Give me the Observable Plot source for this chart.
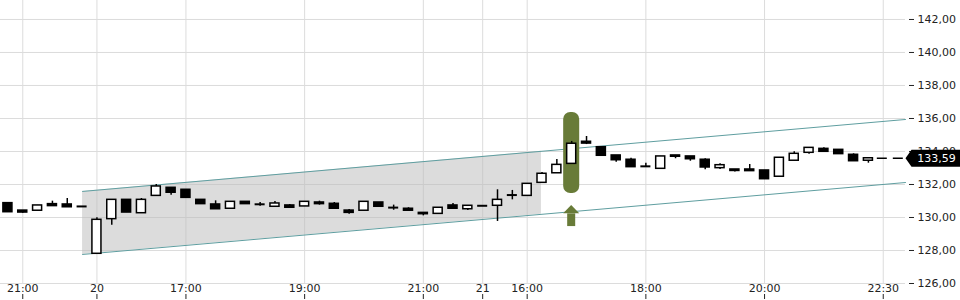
<!DOCTYPE html>
<html>
<head>
<meta charset="utf-8">
<script src="https://cdn.jsdelivr.net/npm/d3@7"></script>
<script src="https://cdn.jsdelivr.net/npm/@observablehq/plot@0.6"></script>
<style>
  html, body { margin: 0; padding: 0; background: #fff; }
  #chart svg { display: block; }
</style>
</head>
<body>
<div id="chart"></div>
<script>
// ---- data ----
const opens  = [130.87,130.42,130.41,130.81,130.79,130.67,127.80,129.90,131.07,130.26,
                131.31,131.80,131.68,131.07,130.79,130.53,130.95,130.80,130.65,130.73,
                130.67,130.91,130.83,130.42,130.41,130.91,130.60,130.53,130.28,130.22,
                130.73,130.50,130.71,130.71,131.36,131.31,132.10,132.68,133.25,134.59,
                134.26,133.76,133.50,133.10,132.95,133.76,133.70,133.50,132.99,132.91,
                132.91,132.85,132.47,133.44,133.92,134.16,134.10,133.80,133.44];
const highs  = [130.87,130.42,130.73,130.99,131.15,130.67,129.98,131.07,131.07,131.15,
                132.00,131.80,131.68,131.07,131.01,130.95,130.95,130.91,130.97,130.79,
                130.95,130.99,130.91,130.48,130.95,130.91,130.75,130.59,130.28,130.59,
                130.85,130.71,130.71,131.68,131.64,132.04,132.73,133.52,134.61,134.91,
                134.26,133.76,133.59,133.29,133.70,133.76,133.70,133.56,133.25,132.91,
                133.21,132.85,133.62,133.98,134.22,134.22,134.10,133.86,133.59];
const lows   = [130.32,130.26,130.41,130.69,130.62,130.67,127.80,129.53,130.30,130.26,
                131.31,131.35,131.19,130.81,130.50,130.53,130.81,130.68,130.65,130.55,
                130.67,130.75,130.53,130.20,130.41,130.65,130.44,130.41,130.10,130.22,
                130.53,130.42,130.71,129.76,131.07,131.31,132.10,132.68,133.25,134.42,
                133.74,133.35,133.05,133.08,132.95,133.56,133.41,132.89,132.91,132.76,
                132.81,132.32,132.47,133.44,133.84,133.98,133.84,133.41,133.29];
const closes = [130.32,130.30,130.73,130.69,130.62,130.67,129.86,131.07,130.30,131.07,
                131.88,131.50,131.19,130.81,130.50,130.95,130.81,130.78,130.85,130.59,
                130.95,130.81,130.53,130.28,130.95,130.65,130.58,130.41,130.20,130.59,
                130.53,130.71,130.71,131.07,131.40,132.04,132.65,133.19,134.47,134.48,
                133.74,133.47,133.05,133.08,133.70,133.68,133.53,133.03,133.17,132.82,
                132.81,132.32,133.62,133.86,134.22,133.98,133.84,133.41,133.59];

const xTickIndex  = [1, 6, 12, 20, 28, 32, 35, 43, 51, 59];
const xTickLabels = ["21:00","20","17:00","19:00","21:00","21","16:00","18:00","20:00","22:30"];
const yTicks = [126,128,130,132,134,136,138,140,142];

// regression channel (index, value)
const channelX     = [5.03, 60.5];
const channelUpper = [131.58, 135.94];
const channelLower = [127.76, 132.12];
// shaded regression period
const shadeX     = [5.03, 35.96];
const shadeUpper = [131.58, 134.01];
const shadeLower = [127.76, 130.19];

// signal highlight around candle 38
const signalIndex = 38;
const signalTop = 136.36, signalBottom = 131.45;
const arrowTip = 130.73, arrowBase = 130.22, arrowTail = 129.45;

const lastPrice = 133.59;

// ---- build tables ----
const candles = opens.map((o, i) => ({
  i, o, h: highs[i], l: lows[i], c: closes[i],
  up: closes[i] >= opens[i],
  lo: Math.min(o, closes[i]), hi: Math.max(o, closes[i]),
  doji: Math.abs(closes[i] - o) < 0.05
}));
const bodies = candles.filter(d => !d.doji);
const dojis = candles.filter(d => d.doji);
const labelMap = new Map(xTickIndex.map((d, k) => [d, xTickLabels[k]]));
const fmt = d => d.toFixed(2).replace(".", ",");

const channelU = channelX.map((x, k) => ({x, y: channelUpper[k]}));
const channelL = channelX.map((x, k) => ({x, y: channelLower[k]}));
const shade = shadeX.map((x, k) => ({x, y1: shadeLower[k], y2: shadeUpper[k]}));
const pill = [{x1: signalIndex - 0.54, x2: signalIndex + 0.54, y1: signalBottom, y2: signalTop}];
const arrowHead = [
  {x: signalIndex - 0.54, y1: arrowBase, y2: arrowBase},
  {x: signalIndex, y1: arrowBase, y2: arrowTip},
  {x: signalIndex + 0.54, y1: arrowBase, y2: arrowBase}
];
const arrowShaft = [{x1: signalIndex - 0.27, x2: signalIndex + 0.27, y1: arrowTail, y2: arrowBase}];
const lastIdx = candles.length - 1;
const priceLine = [{y: lastPrice, x1: lastIdx + 0.6, x2: 60.5}];

const tagSymbol = {
  draw(ctx) {
    ctx.moveTo(0, 0);
    ctx.lineTo(6, -8.5);
    ctx.lineTo(56, -8.5);
    ctx.lineTo(56, 8.5);
    ctx.lineTo(6, 8.5);
    ctx.closePath();
  }
};

const green = "#687b38";
const teal = "#5f9ea0";

const chart = Plot.plot({
  width: 960,
  height: 300,
  marginLeft: 0,
  marginRight: 55,
  marginTop: 0,
  marginBottom: 17,
  x: {domain: [-0.5, 60.5], axis: null},
  y: {domain: [126, 143.15], axis: null},
  style: {fontFamily: "DejaVu Sans", fontSize: "11px", background: "#fff", color: "#222"},
  marks: [
    Plot.gridY(yTicks, {stroke: "#dcdcdc", strokeOpacity: 1}),
    Plot.gridX(xTickIndex, {stroke: "#dcdcdc", strokeOpacity: 1}),
    Plot.areaY(shade, {x: "x", y1: "y1", y2: "y2", fill: "#b9b9b9", fillOpacity: 0.5}),
    Plot.line(channelU, {x: "x", y: "y", stroke: teal, strokeWidth: 1}),
    Plot.line(channelL, {x: "x", y: "y", stroke: teal, strokeWidth: 1}),
    Plot.rect(pill, {x1: "x1", x2: "x2", y1: "y1", y2: "y2", fill: green, rx: 7}),
    Plot.areaY(arrowHead, {x: "x", y1: "y1", y2: "y2", fill: green}),
    Plot.rect(arrowShaft, {x1: "x1", x2: "x2", y1: "y1", y2: "y2", fill: green}),
    Plot.ruleX(candles, {x: "i", y1: "l", y2: "h", stroke: "#000", strokeWidth: 1.5}),
    Plot.rect(bodies, {
      x1: d => d.i - 0.5, x2: d => d.i + 0.5, y1: "lo", y2: "hi",
      insetLeft: 2.9, insetRight: 2.9,
      fill: d => d.up ? "#fff" : "#000", stroke: "#000", strokeWidth: 1.5
    }),
    Plot.ruleY(dojis, {
      y: "o", x1: d => d.i - 0.5, x2: d => d.i + 0.5,
      insetLeft: 2.4, insetRight: 2.4, stroke: "#000", strokeWidth: 2
    }),
    Plot.ruleY(priceLine, {y: "y", x1: "x1", x2: "x2", stroke: "#000", strokeWidth: 1.5, strokeDasharray: "10,6"}),
    Plot.axisX(xTickIndex, {tickSize: 0, tickPadding: 1, tickFormat: d => labelMap.get(d), fill: "#222"}),
    Plot.axisX(xTickIndex, {tickSize: 5, tickFormat: () => "", dy: 11}),
    Plot.axisY(yTicks, {anchor: "right", tickSize: 5, tickPadding: 4, dx: 3, tickFormat: fmt, fill: "#222"}),
    Plot.dot([{y: lastPrice}], {x: 60.5, y: "y", symbol: tagSymbol, r: 5, fill: "#000", stroke: null}),
    Plot.text([{y: lastPrice}], {x: 60.5, y: "y", text: d => fmt(d.y), dx: 31, fill: "#fff", fontSize: 11})
  ]
});
document.getElementById("chart").appendChild(chart);
</script>
</body>
</html>
